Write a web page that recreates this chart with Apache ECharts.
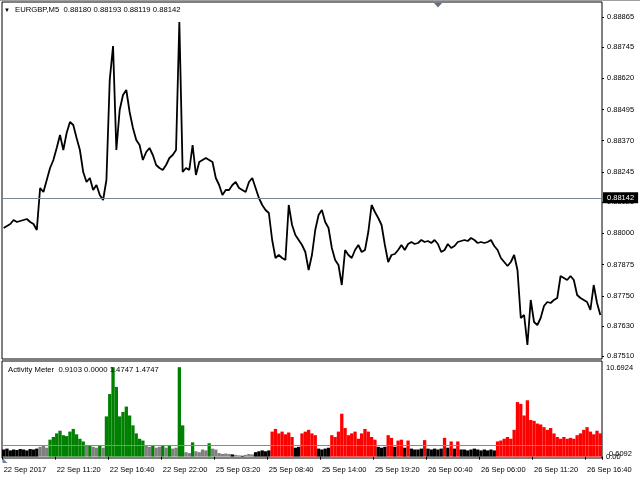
<!DOCTYPE html>
<html><head><meta charset="utf-8">
<script src="https://cdn.jsdelivr.net/npm/echarts@6/dist/echarts.min.js"></script>
<style>html,body{margin:0;padding:0;background:#fff}#c{width:640px;height:480px}</style>
</head><body><div id="c"></div>
<script>
// ---------- data ----------
const SYMBOL = 'EURGBP,M5';
const OHLC = ['0.88180', '0.88193', '0.88119', '0.88142'];
const BID = 0.88142;
const PRICE_TICKS = [0.87510, 0.87630, 0.87750, 0.87875, 0.88000, 0.88125, 0.88245, 0.88370, 0.88495, 0.88620, 0.88745, 0.88865];
const PRICE_MIN = 0.87497, PRICE_MAX = 0.88925;
const TIME_LABELS = ['22 Sep 2017', '22 Sep 11:20', '22 Sep 16:40', '22 Sep 22:00', '25 Sep 03:20', '25 Sep 08:40',
  '25 Sep 14:00', '25 Sep 19:20', '26 Sep 00:40', '26 Sep 06:00', '26 Sep 11:20', '26 Sep 16:40'];
const POINTS_PER_LABEL = 16;
const CLOSE = [
  0.88021,0.88029,0.88037,0.88053,0.88045,0.88049,0.88053,0.88057,0.88045,0.88037,
  0.88013,0.88181,0.88165,0.88213,0.88261,0.88293,0.88341,0.88393,0.88333,0.88401,
  0.88445,0.88433,0.88381,0.88333,0.88245,0.88205,0.88221,0.88173,0.88193,0.88153,
  0.88133,0.88213,0.88613,0.88749,0.88333,0.88493,0.88553,0.88573,0.88485,0.88421,
  0.88373,0.88353,0.88293,0.88325,0.88341,0.88313,0.88273,0.88261,0.88253,0.88273,
  0.88301,0.88313,0.88333,0.88845,0.88245,0.88261,0.88253,0.88353,0.88233,0.88285,
  0.88293,0.88301,0.88293,0.88285,0.88221,0.88193,0.88153,0.88173,0.88173,0.88193,
  0.88205,0.88181,0.88173,0.88165,0.88205,0.88221,0.88181,0.88141,0.88113,0.88093,
  0.88081,0.87973,0.87901,0.87913,0.87901,0.87893,0.88113,0.88033,0.87993,0.87973,
  0.87953,0.87925,0.87853,0.87913,0.88013,0.88073,0.88093,0.88045,0.88021,0.87941,
  0.87893,0.87873,0.87793,0.87933,0.87913,0.87901,0.87933,0.87953,0.87925,0.87933,
  0.88005,0.88113,0.88085,0.88061,0.88033,0.87953,0.87885,0.87913,0.87917,0.87933,
  0.87953,0.87933,0.87957,0.87965,0.87957,0.87961,0.87973,0.87965,0.87969,0.87961,
  0.87973,0.87957,0.87925,0.87933,0.87957,0.87941,0.87949,0.87965,0.87969,0.87973,
  0.87969,0.87981,0.87973,0.87961,0.87965,0.87961,0.87965,0.87973,0.87949,0.87933,
  0.87901,0.87885,0.87869,0.87885,0.87913,0.87853,0.87661,0.87673,0.87553,0.87733,
  0.87645,0.87633,0.87661,0.87709,0.87725,0.87721,0.87733,0.87741,0.87829,0.87821,
  0.87813,0.87829,0.87813,0.87753,0.87741,0.87733,0.87725,0.87693,0.87793,0.87721,
  0.87673
];
const ACT_NAME = 'Activity Meter';
const ACT_HEADER = ['0.9103', '0.0000', '1.4747', '1.4747'];
const ACT_MIN = -0.15, ACT_MAX = 10.6924;
const ACT_SCALE_LABELS = ['10.6924', '0.6092', '0.00'];
const ACT_LEVEL = 1.23;
const ACTIVITY = [
  0.80,0.90,0.70,0.80,0.75,0.85,0.80,0.70,0.85,0.80,
  0.90,1.10,1.20,1.00,1.90,2.20,2.60,2.90,2.40,2.30,
  2.80,3.10,2.50,2.00,1.70,1.20,1.30,1.10,1.00,1.20,
  1.00,4.50,7.00,10.00,7.80,4.50,5.00,5.60,4.60,3.50,
  2.60,2.00,1.80,1.20,1.10,1.20,1.00,1.10,1.20,1.00,
  1.30,0.90,1.00,10.00,3.50,0.50,0.40,1.60,0.60,0.50,
  0.80,0.70,1.50,0.90,0.80,0.40,0.30,0.35,0.30,0.25,
  0.20,0.15,0.10,0.20,0.30,0.25,0.50,0.60,0.70,0.60,
  0.70,2.80,3.10,2.60,2.80,2.50,2.70,2.20,1.00,1.10,
  2.60,2.80,3.00,2.60,2.40,0.90,0.80,0.90,1.00,2.40,
  2.20,2.80,4.80,3.20,2.40,2.60,2.80,2.00,2.60,3.10,
  2.80,2.20,1.90,1.10,1.00,1.10,2.40,2.10,1.10,1.80,
  1.90,1.00,1.80,0.90,0.80,0.80,0.90,1.85,0.90,0.80,
  0.90,0.80,0.90,2.10,1.00,1.70,0.90,1.70,0.80,0.80,
  0.70,0.80,0.90,0.80,0.70,0.80,0.70,0.80,0.70,1.70,
  1.80,2.00,2.20,2.00,3.00,6.10,5.90,4.60,6.30,4.10,
  4.00,3.70,3.60,3.30,3.00,3.20,2.60,2.20,2.00,2.20,
  2.00,2.10,2.00,2.40,2.60,3.00,3.30,2.80,2.50,2.90,
  2.60
];
// q = quiet, n = neutral, u = active up, d = active down
const ACT_STATE = [
  'q','q','q','q','q','q','q','q','q','q',
  'q','n','n','n','u','u','u','u','u','u',
  'u','u','u','u','u','n','u','n','n','u',
  'n','u','u','u','u','u','u','u','u','u',
  'u','u','u','n','n','u','n','n','u','n',
  'u','n','n','u','u','n','n','u','n','n',
  'n','n','u','n','n','n','n','n','n','q',
  'n','n','q','n','n','n','q','q','q','q',
  'q','d','d','d','d','d','d','d','q','q',
  'd','d','d','d','d','q','q','q','q','d',
  'd','d','d','d','d','d','d','d','d','d',
  'd','d','d','q','q','q','d','d','q','d',
  'd','q','d','q','q','q','q','d','q','q',
  'q','q','q','d','q','d','q','d','q','q',
  'q','q','q','q','q','q','q','q','q','d',
  'd','d','d','d','d','d','d','d','d','d',
  'd','d','d','d','d','d','d','d','d','d',
  'd','d','d','d','d','d','d','d','d','d',
  'd'
];

// ---------- styles ----------
const STATE_COLORS = { q: '#000000', n: '#808080', u: '#008000', d: '#ff0000' };
const FONT = 'Liberation Sans';
const FS = 7.5;
const CATS = CLOSE.map((_, i) => String(i));

const chart = echarts.init(document.getElementById('c'), null, { renderer: 'canvas' });
const txt = { fontFamily: FONT, fontSize: FS, color: '#000', fontWeight: 'normal' };

chart.setOption({
  animation: false,
  backgroundColor: '#fff',
  title: [
    { text: '▼', left: 4, top: 7, padding: 0, textStyle: Object.assign({}, txt, { fontSize: 6 }) },
    { text: SYMBOL + '  ' + OHLC.join(' '), left: 15, top: 6, padding: 0, textStyle: Object.assign({}, txt, { fontSize: 7.7 }) },
    { text: ACT_NAME + '  ' + ACT_HEADER.join(' '), left: 8, top: 366, padding: 0, textStyle: Object.assign({}, txt, { fontSize: 7.7 }) }
  ],
  graphic: [
    { type: 'line', shape: { x1: 0, y1: 0.5, x2: 640, y2: 0.5 }, style: { stroke: '#a0a0a0', lineWidth: 1 }, silent: true },
    { type: 'polygon', shape: { points: [[434, 3], [442, 3], [438, 7.5]] }, style: { fill: '#5f7089' }, silent: true },
    { type: 'polygon', shape: { points: [[2.5, 458], [2.5, 463], [7.5, 463]] }, style: { fill: '#6f80a0' }, silent: true }
  ],
  grid: [
    { left: 2, right: 38, top: 2, height: 357, show: true, borderColor: '#000', borderWidth: 1, backgroundColor: 'transparent' },
    { left: 2, right: 38, top: 361, height: 97, show: true, borderColor: '#000', borderWidth: 1, backgroundColor: 'transparent' }
  ],
  xAxis: [
    { type: 'category', gridIndex: 0, data: CATS, boundaryGap: true,
      axisLine: { show: false }, axisTick: { show: false }, axisLabel: { show: false }, splitLine: { show: false } },
    { type: 'category', gridIndex: 1, data: CATS, boundaryGap: true,
      axisLine: { show: false },
      axisTick: { show: true, interval: POINTS_PER_LABEL - 1, length: 3, lineStyle: { color: '#000' } },
      axisLabel: Object.assign({}, txt, {
        interval: POINTS_PER_LABEL - 1, align: 'left', margin: 8,
        formatter: (v, i) => TIME_LABELS[i / POINTS_PER_LABEL] || ''
      }),
      splitLine: { show: false } }
  ],
  yAxis: [
    { type: 'value', gridIndex: 0, position: 'right', min: PRICE_MIN, max: PRICE_MAX, scale: true,
      splitLine: { show: false }, axisLine: { show: false },
      axisTick: { show: true, customValues: PRICE_TICKS, length: 2, lineStyle: { color: '#000' } },
      axisLabel: Object.assign({}, txt, { customValues: PRICE_TICKS, margin: 5, formatter: v => v.toFixed(5) }) },
    { type: 'value', gridIndex: 1, position: 'right', min: ACT_MIN, max: ACT_MAX,
      splitLine: { show: false }, axisLine: { show: false }, axisTick: { show: false },
      axisLabel: Object.assign({}, txt, { customValues: [ACT_MAX], margin: 4, verticalAlign: 'top', padding: [3, 0, 0, 0], formatter: () => ACT_SCALE_LABELS[0] }) },
    { type: 'value', gridIndex: 1, position: 'right', min: ACT_MIN, max: ACT_MAX,
      splitLine: { show: false }, axisLine: { show: false }, axisTick: { show: false },
      axisLabel: Object.assign({}, txt, { customValues: [ACT_MIN], margin: 7, verticalAlign: 'bottom', formatter: () => ACT_SCALE_LABELS[1] }) },
    { type: 'value', gridIndex: 1, position: 'right', min: ACT_MIN, max: ACT_MAX,
      splitLine: { show: false }, axisLine: { show: false }, axisTick: { show: false },
      axisLabel: Object.assign({}, txt, { customValues: [0], margin: 4, formatter: () => ACT_SCALE_LABELS[2] }) }
  ],
  series: [
    { name: SYMBOL, type: 'line', xAxisIndex: 0, yAxisIndex: 0, data: CLOSE, symbol: 'none',
      lineStyle: { color: '#000', width: 1.8 }, z: 3, silent: true,
      markLine: { symbol: 'none', silent: true, animation: false, precision: 5,
        lineStyle: { color: '#778899', width: 1, type: 'solid' },
        label: { position: 'end', distance: 1, formatter: () => BID.toFixed(5), backgroundColor: '#000',
          color: '#fff', fontFamily: FONT, fontSize: FS, padding: [2, 4, 1, 4] },
        data: [{ yAxis: BID }] } },
    { name: 'level', type: 'line', xAxisIndex: 1, yAxisIndex: 1, data: [], z: 1, silent: true,
      markLine: { symbol: 'none', silent: true, animation: false, precision: 4,
        lineStyle: { color: '#8a8a8a', width: 1, type: 'solid' }, label: { show: false },
        data: [{ yAxis: ACT_LEVEL }] } },
    { name: ACT_NAME, type: 'bar', xAxisIndex: 1, yAxisIndex: 1, z: 3, silent: true,
      barCategoryGap: '0%', barGap: '0%',
      data: ACTIVITY.map((v, i) => ({ value: v, itemStyle: { color: STATE_COLORS[ACT_STATE[i]] } })) }
  ]
});
</script></body></html>
